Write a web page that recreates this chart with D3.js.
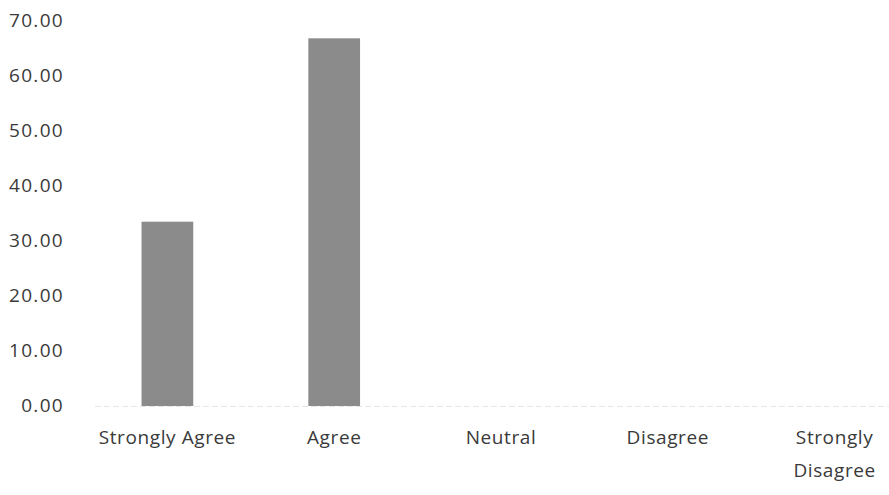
<!DOCTYPE html>
<html><head><meta charset="utf-8">
<script src="https://cdn.jsdelivr.net/npm/d3@7"></script>
<style>body{margin:0;background:#fff}</style></head>
<body><svg id="c" width="889" height="495"></svg>
<script>
const categories = ["Strongly Agree", "Agree", "Neutral", "Disagree", "Strongly Disagree"];
const values = [33.33, 66.67, 0, 0, 0];
const yTicks = [0, 10, 20, 30, 40, 50, 60, 70];

const svg = d3.select("#c");
const font = "'Open Sans', sans-serif";
const x = d3.scaleBand().domain(categories).range([84, 918]).paddingInner(0.69).paddingOuter(0.345);
const y = d3.scaleLinear().domain([0, 70]).range([405, 20]);

// baseline
svg.append("line").attr("x1", 95).attr("x2", 889).attr("y1", y(0) + 1.5).attr("y2", y(0) + 1.5)
  .attr("stroke", "#e6e6e6").attr("stroke-width", 1).attr("stroke-dasharray", "6,3");

svg.selectAll("rect.bar").data(values.filter(v => v > 0)).join("rect").attr("class", "bar")
  .attr("x", (d, i) => x(categories[i]))
  .attr("width", x.bandwidth())
  .attr("y", d => y(d))
  .attr("height", d => y(0) - y(d) + 1)
  .attr("fill", "#8b8b8b");

const yAxis = d3.axisLeft(y).tickValues(yTicks).tickFormat(d3.format(".2f")).tickSize(0).tickPadding(0);
const ga = svg.append("g").attr("transform", "translate(64,0)").call(yAxis);
ga.select(".domain").remove();
ga.selectAll("text").attr("font-family", font).attr("font-size", 19).attr("fill", "#3a3a3a")
  .attr("letter-spacing", "1.3px");

const xAxis = d3.axisBottom(x).tickSize(0).tickPadding(0);
const gx = svg.append("g").attr("transform", "translate(0,430)").call(xAxis);
gx.select(".domain").remove();
gx.selectAll("text").attr("font-family", font).attr("font-size", 19).attr("fill", "#3a3a3a")
  .attr("letter-spacing", "0.6px")
  .each(function(d) {
    const t = d3.select(this);
    if (d === "Strongly Disagree") {
      t.text(null);
      t.append("tspan").attr("x", 0).attr("dy", "0.71em").text("Strongly");
      t.append("tspan").attr("x", 0).attr("dy", "1.75em").text("Disagree");
      t.attr("dy", null);
    }
  });
</script></body></html>
